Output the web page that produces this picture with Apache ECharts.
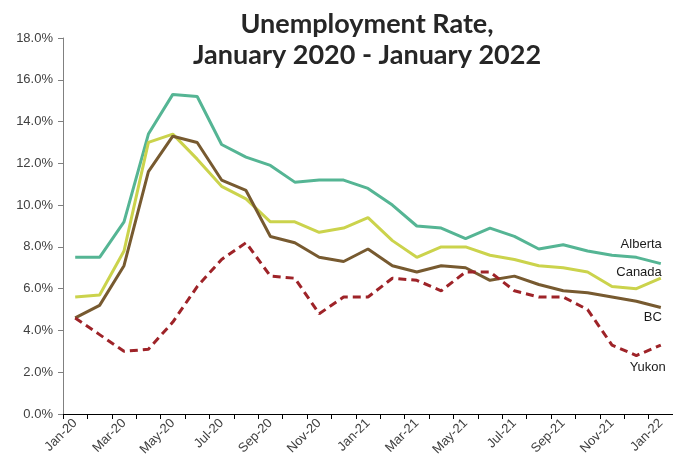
<!DOCTYPE html>
<html>
<head>
<meta charset="utf-8">
<script src="https://cdn.jsdelivr.net/npm/echarts@6/dist/echarts.min.js"></script>
<style>
html,body{margin:0;padding:0;background:#fff;}
#chart{width:673px;height:460px;}
</style>
</head>
<body>
<div id="chart"></div>
<script>
// months, Jan-20 .. Jan-22
var months = ['Jan-20','Feb-20','Mar-20','Apr-20','May-20','Jun-20','Jul-20','Aug-20','Sep-20','Oct-20','Nov-20','Dec-20',
  'Jan-21','Feb-21','Mar-21','Apr-21','May-21','Jun-21','Jul-21','Aug-21','Sep-21','Oct-21','Nov-21','Dec-21','Jan-22'];

var alberta = [7.5,7.5,9.2,13.4,15.3,15.2,12.9,12.3,11.9,11.1,11.2,11.2,10.8,10.0,9.0,8.9,8.4,8.9,8.5,7.9,8.1,7.8,7.6,7.5,7.2];
var canada  = [5.6,5.7,7.8,13.0,13.4,12.2,10.9,10.3,9.2,9.2,8.7,8.9,9.4,8.3,7.5,8.0,8.0,7.6,7.4,7.1,7.0,6.8,6.1,6.0,6.5];
var bc      = [4.6,5.2,7.1,11.6,13.3,13.0,11.2,10.7,8.5,8.2,7.5,7.3,7.9,7.1,6.8,7.1,7.0,6.4,6.6,6.2,5.9,5.8,5.6,5.4,5.1];
var yukon   = [4.6,3.8,3.0,3.1,4.4,6.1,7.4,8.2,6.6,6.5,4.8,5.6,5.6,6.5,6.4,5.9,6.8,6.8,5.9,5.6,5.6,5.0,3.3,2.8,3.3];

var chart = echarts.init(document.getElementById('chart'));

// label next to the last point of a line, right-aligned
function endLbl(pos, dx, dy) {
  return {
    show: true,
    formatter: '{a}',
    position: pos,
    align: 'right',
    offset: [dx, dy],
    fontFamily: 'Liberation Sans',
    fontSize: 13,
    color: '#1a1a1a'
  };
}

var option = {
  backgroundColor: '#fff',
  animation: false,
  title: {
    text: 'Unemployment Rate,\nJanuary 2020 - January 2022',
    left: 362,
    textAlign: 'center',
    top: 4,
    textStyle: {
      fontFamily: 'Lato',
      fontWeight: 'bold',
      fontSize: 27,
      lineHeight: 31,
      color: '#262626'
    }
  },
  grid: { left: 63, right: 0, top: 38, bottom: 46 },
  xAxis: {
    type: 'category',
    data: months,
    boundaryGap: true,
    axisLine: { lineStyle: { color: '#000', width: 1 } },
    axisTick: { show: true, interval: 0, length: 5, lineStyle: { color: '#000' } },
    axisLabel: {
      interval: 1,
      rotate: 45,
      fontFamily: 'Liberation Sans',
      fontSize: 13,
      color: '#404040',
      margin: 7
    },
    splitLine: { show: false }
  },
  yAxis: {
    type: 'value',
    min: 0,
    max: 18,
    interval: 2,
    axisLine: { show: true, lineStyle: { color: '#808080', width: 1 } },
    axisTick: { show: true, length: 5, lineStyle: { color: '#808080' } },
    axisLabel: {
      formatter: function (v) { return v.toFixed(1) + '%'; },
      fontFamily: 'Liberation Sans',
      fontSize: 13,
      color: '#404040',
      margin: 10
    },
    splitLine: { show: false }
  },
  series: [
    {
      name: 'Alberta', type: 'line', data: alberta, symbol: 'none',
      lineStyle: { color: '#55b594', width: 3 },
      endLabel: endLbl('top', -7, -19)
    },
    {
      name: 'Canada', type: 'line', data: canada, symbol: 'none',
      lineStyle: { color: '#cbd34c', width: 3 },
      endLabel: endLbl('top', -7, -6)
    },
    {
      name: 'BC', type: 'line', data: bc, symbol: 'none',
      lineStyle: { color: '#775a30', width: 3 },
      endLabel: endLbl('bottom', -7, 10)
    },
    {
      name: 'Yukon', type: 'line', data: yukon, symbol: 'none',
      lineStyle: { color: '#9e2328', width: 3, type: [8, 5] },
      endLabel: endLbl('bottom', -3, 22)
    }
  ]
};

chart.setOption(option);
</script>
</body>
</html>
